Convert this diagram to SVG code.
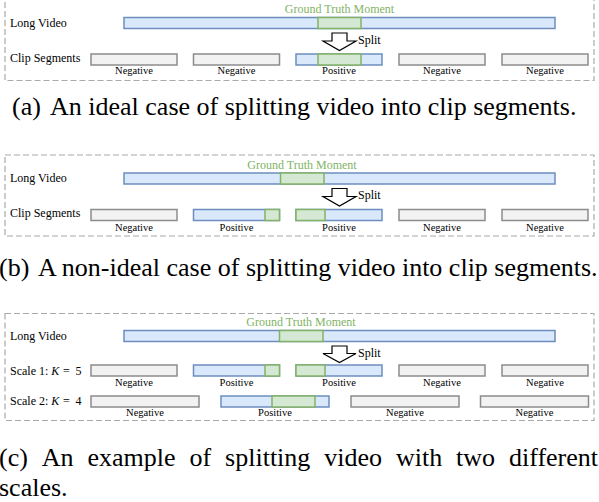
<svg xmlns="http://www.w3.org/2000/svg" width="599" height="502" viewBox="0 0 599 502">
<style>
  .frame{fill:none;stroke:#aaaaaa;stroke-width:1.2;stroke-dasharray:6,3}
  .blue{fill:#dae8fc;stroke:#6c8ebf;stroke-width:1.5}
  .green{fill:#d5e8d4;stroke:#82b366;stroke-width:1.5}
  .gray{fill:#f2f2f2;stroke:#8c8c8c;stroke-width:1.5}
  .row{font-family:"Liberation Serif","Times New Roman",serif;font-size:12px;fill:#000}
  .gt{font-family:"Liberation Serif","Times New Roman",serif;font-size:12px;fill:#82b366;text-anchor:middle}
  .lbl{font-family:"Liberation Serif","Times New Roman",serif;font-size:10.5px;fill:#000;text-anchor:middle}
  .arrow{fill:#ffffff;stroke:#000;stroke-width:1.2;stroke-linejoin:miter}
  .cap{font-family:"Liberation Serif","Times New Roman",serif;font-size:26px;fill:#000}
</style>

<!-- Panel (a) -->
<g id="panel-a">
  <rect class="frame" x="5" y="-1" width="589" height="81.5"/>
  <text class="row" x="10" y="27">Long Video</text>
  <text class="row" x="10" y="62">Clip Segments</text>
  <g id="a-long-video"><rect class="blue" x="124" y="17.5" width="431" height="11"/></g>
  <g id="a-gt"><rect class="green" x="318" y="17.5" width="43" height="11"/><text class="gt" x="339.5" y="13">Ground Truth Moment</text></g>
  <g id="a-seg1"><rect class="gray" x="91" y="54" width="86" height="11"/><text class="lbl" x="134" y="74">Negative</text></g>
  <g id="a-seg2"><rect class="gray" x="193.5" y="54" width="86" height="11"/><text class="lbl" x="236.5" y="74">Negative</text></g>
  <g id="a-seg3"><rect class="blue" x="296" y="54" width="86" height="11"/><rect class="green" x="318" y="54" width="43" height="11"/><text class="lbl" x="339" y="74">Positive</text></g>
  <g id="a-seg4"><rect class="gray" x="399" y="54" width="86" height="11"/><text class="lbl" x="442" y="74">Negative</text></g>
  <g id="a-seg5"><rect class="gray" x="502" y="54" width="86" height="11"/><text class="lbl" x="545" y="74">Negative</text></g>
  <text class="row" x="358" y="44">Split</text>
</g>

<!-- Panel (b) -->
<g id="panel-b">
  <rect class="frame" x="5" y="155" width="589" height="81"/>
  <text class="row" x="10" y="182">Long Video</text>
  <text class="row" x="10" y="217">Clip Segments</text>
  <g id="b-long-video"><rect class="blue" x="124" y="173" width="431" height="11"/></g>
  <g id="b-gt"><rect class="green" x="280.5" y="173" width="43.5" height="11"/><text class="gt" x="302" y="169">Ground Truth Moment</text></g>
  <g id="b-seg1"><rect class="gray" x="91" y="209.5" width="86" height="11"/><text class="lbl" x="134" y="230.5">Negative</text></g>
  <g id="b-seg2"><rect class="blue" x="193.5" y="209.5" width="86" height="11"/><rect class="green" x="265" y="209.5" width="14.5" height="11"/><text class="lbl" x="236.5" y="230.5">Positive</text></g>
  <g id="b-seg3"><rect class="blue" x="296" y="209.5" width="86" height="11"/><rect class="green" x="296" y="209.5" width="29" height="11"/><text class="lbl" x="339" y="230.5">Positive</text></g>
  <g id="b-seg4"><rect class="gray" x="399" y="209.5" width="86" height="11"/><text class="lbl" x="442" y="230.5">Negative</text></g>
  <g id="b-seg5"><rect class="gray" x="502" y="209.5" width="86" height="11"/><text class="lbl" x="545" y="230.5">Negative</text></g>
  <text class="row" x="358" y="199">Split</text>
</g>

<!-- Panel (c) -->
<g id="panel-c">
  <rect class="frame" x="5" y="313.5" width="589" height="107"/>
  <text class="row" x="10" y="339.5">Long Video</text>
  <text class="row" x="10" y="375">Scale 1: <tspan x="51.3" font-style="italic">K</tspan><tspan x="63">=</tspan><tspan x="75.5">5</tspan></text>
  <text class="row" x="10" y="405">Scale 2: <tspan x="51.3" font-style="italic">K</tspan><tspan x="63">=</tspan><tspan x="75.5">4</tspan></text>
  <g id="c-long-video"><rect class="blue" x="124" y="330.5" width="431" height="11"/></g>
  <g id="c-gt"><rect class="green" x="279.5" y="330.5" width="43.5" height="11"/><text class="gt" x="301" y="326">Ground Truth Moment</text></g>
  <g id="c-s1-seg1"><rect class="gray" x="91" y="365" width="86" height="11"/><text class="lbl" x="134" y="386">Negative</text></g>
  <g id="c-s1-seg2"><rect class="blue" x="193.5" y="365" width="86" height="11"/><rect class="green" x="265" y="365" width="14.5" height="11"/><text class="lbl" x="236.5" y="386">Positive</text></g>
  <g id="c-s1-seg3"><rect class="blue" x="296" y="365" width="86" height="11"/><rect class="green" x="296" y="365" width="29" height="11"/><text class="lbl" x="339" y="386">Positive</text></g>
  <g id="c-s1-seg4"><rect class="gray" x="399" y="365" width="86" height="11"/><text class="lbl" x="442" y="386">Negative</text></g>
  <g id="c-s1-seg5"><rect class="gray" x="502" y="365" width="86" height="11"/><text class="lbl" x="545" y="386">Negative</text></g>
  <g id="c-s2-seg1"><rect class="gray" x="91" y="396" width="108" height="11"/><text class="lbl" x="145" y="416">Negative</text></g>
  <g id="c-s2-seg2"><rect class="blue" x="221" y="396" width="108" height="11"/><rect class="green" x="272" y="396" width="43" height="11"/><text class="lbl" x="275" y="416">Positive</text></g>
  <g id="c-s2-seg3"><rect class="gray" x="351" y="396" width="108" height="11"/><text class="lbl" x="405" y="416">Negative</text></g>
  <g id="c-s2-seg4"><rect class="gray" x="480.5" y="396" width="108" height="11"/><text class="lbl" x="534.5" y="416">Negative</text></g>
  <text class="row" x="358" y="357">Split</text>
</g>

<!-- Connectors: split block arrows -->
<g id="connectors">
  <polygon class="arrow" points="332,33 347,33 347,41 356,41 339.5,50.5 323,41 332,41"/>
  <polygon class="arrow" points="332,188.5 347,188.5 347,196.5 356,196.5 339.5,206 323,196.5 332,196.5"/>
  <polygon class="arrow" points="332,346 347,346 347,353.5 356,353.5 339.5,362.5 323,353.5 332,353.5"/>
</g>

<!-- Captions -->
<g id="captions">
  <text class="cap" y="115" font-size="26.4"><tspan x="12">(a)</tspan><tspan x="50">An ideal case of splitting video into clip segments.</tspan></text>
  <text class="cap" y="276"><tspan x="-1">(b)</tspan><tspan x="38">A non-ideal case of splitting video into clip segments.</tspan></text>
  <text class="cap" y="466"><tspan x="-1">(c)</tspan><tspan x="41.8">An</tspan><tspan x="87.5">example</tspan><tspan x="189.5">of</tspan><tspan x="225.1">splitting</tspan><tspan x="324.3">video</tspan><tspan x="396">with</tspan><tspan x="456.1">two</tspan><tspan x="509">different</tspan></text>
  <text class="cap" x="-1" y="496">scales.</text>
</g>
</svg>
